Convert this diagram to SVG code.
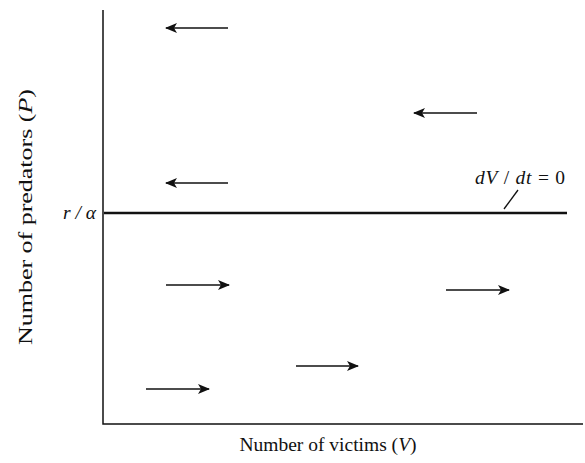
<svg xmlns="http://www.w3.org/2000/svg" width="585" height="463" viewBox="0 0 585 463">
<style>
.ax{stroke:#111;stroke-width:1.5;fill:none}
.ar{stroke:#111;stroke-width:1.6;fill:none;marker-end:url(#ah)}
.t{font-family:"Liberation Serif","Times New Roman",serif;font-size:19.5px;fill:#111}
.i{font-style:italic}
</style>
<defs>
<marker id="ah" markerWidth="12" markerHeight="10" refX="11" refY="5" orient="auto" markerUnits="userSpaceOnUse">
<path d="M0,0 L12,5 L0,10 L3,5 Z" fill="#111"/>
</marker>
</defs>
<rect width="585" height="463" fill="#fff"/>
<g id="axes">
<path class="ax" d="M103,10 V424 H583"/>
</g>
<g id="isocline">
<line x1="104" y1="213" x2="567" y2="213" stroke="#111" stroke-width="2.6"/>
<line x1="518" y1="190" x2="504" y2="209" stroke="#111" stroke-width="1.3"/>
<text class="t" x="475" y="184" textLength="90" lengthAdjust="spacing"><tspan class="i">dV</tspan> / <tspan class="i">dt</tspan> = 0</text>
<text class="t i" x="96" y="219" text-anchor="end">r / α</text>
</g>
<g id="connectors">
<line class="ar" x1="228" y1="28" x2="166" y2="28"/>
<line class="ar" x1="477" y1="113" x2="414" y2="113"/>
<line class="ar" x1="228" y1="183" x2="166" y2="183"/>
<line class="ar" x1="166" y1="285" x2="229" y2="285"/>
<line class="ar" x1="446" y1="290" x2="509" y2="290"/>
<line class="ar" x1="296" y1="366" x2="358" y2="366"/>
<line class="ar" x1="146" y1="389" x2="209" y2="389"/>
</g>
<g id="labels">
<text class="t" x="328" y="451" text-anchor="middle">Number of victims (<tspan class="i">V</tspan>)</text>
<text class="t" transform="translate(32,217) rotate(-90)" text-anchor="middle" textLength="256" lengthAdjust="spacingAndGlyphs">Number of predators (<tspan class="i">P</tspan>)</text>
</g>
</svg>
